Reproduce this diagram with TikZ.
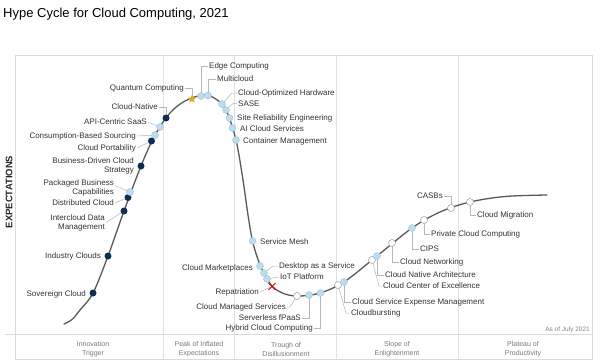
\documentclass[tikz,border=0pt]{standalone}
\usepackage{fontspec}
\setmainfont{Liberation Sans}
\usetikzlibrary{shapes.geometric,shapes.misc,backgrounds}
\definecolor{framec}{HTML}{DADADA}
\definecolor{sepc}{HTML}{E2E2E2}
\definecolor{curvec}{HTML}{5A5A5A}
\definecolor{leadc}{HTML}{B8B8B8}
\definecolor{darkc}{HTML}{0F2D52}
\definecolor{lightc}{HTML}{BFDCEC}
\definecolor{lightb}{HTML}{9CC5DC}
\definecolor{whiteb}{HTML}{9A9A9A}
\definecolor{textc}{HTML}{333333}
\definecolor{phasec}{HTML}{7A7A7A}
\definecolor{starc}{HTML}{DDAA22}
\begin{document}
\begin{tikzpicture}[x=1pt,y=-1pt,
  lab/.style={font=\fontsize{8}{9}\selectfont, text=textc, inner sep=0pt},
  labl/.style={lab, anchor=east, align=right},
  labr/.style={lab, anchor=west, align=left},
  phase/.style={font=\fontsize{7}{9}\selectfont, text=phasec, align=center, inner sep=0pt},
  leader/.style={draw=leadc, line width=0.5pt},
  darkdot/.style={circle, fill=darkc, minimum size=7pt, inner sep=0pt},
  lightdot/.style={circle, fill=lightc, draw=lightb, line width=0.4pt, minimum size=7pt, inner sep=0pt},
  whitedot/.style={circle, fill=white, draw=whiteb, line width=0.5pt, minimum size=7pt, inner sep=0pt},
  stardot/.style={star, star points=5, star point ratio=2.3, fill=starc, minimum size=9pt, inner sep=0pt},
  xmark/.style={cross out, draw=red!85!black, line width=0.9pt, minimum size=6pt, inner sep=0pt},
  sep/.style={draw=sepc, line width=0.6pt}]
\useasboundingbox (0,0) rectangle (600,360);

% title
\node[anchor=base west, inner sep=0pt, font=\fontsize{13}{15}\selectfont] (title) at (3,17.5) {Hype Cycle for Cloud Computing, 2021};

% axis label
\node[rotate=90, inner sep=0pt, font=\bfseries\fontsize{9.5}{11}\selectfont, text=black!85] (ylab) at (9,192) {EXPECTATIONS};

% phases
\node[phase] (p1) at (93,349.5) {Innovation\\Trigger};
\node[phase] (p2) at (199,349.5) {Peak of Inflated\\Expectations};
\node[phase] (p3) at (286,349.5) {Trough of\\Disillusionment};
\node[phase] (p4) at (397,349.5) {Slope of\\Enlightenment};
\node[phase] (p5) at (523,349.5) {Plateau of\\Productivity};
\node[anchor=east, inner sep=0pt, font=\fontsize{6.5}{8}\selectfont, text=phasec!90] (asof) at (590,329.5) {As of July 2021};

% dots
\node[darkdot] (d1) at (93,293) {};
\node[darkdot] (d2) at (108,256) {};
\node[darkdot] (d3) at (124,211) {};
\node[darkdot] (d4) at (128,197.5) {};
\node[lightdot] (d5) at (130,192) {};
\node[darkdot] (d6) at (141,166) {};
\node[darkdot] (d7) at (151.5,141) {};
\node[lightdot] (d8) at (155,135) {};
\node[lightdot] (d9) at (160,127) {};
\node[darkdot] (d10) at (166,118) {};
\node[stardot] (d11) at (192,99) {};
\node[lightdot] (d12) at (201,96) {};
\node[lightdot] (d13) at (208,95.5) {};
\node[lightdot] (d14) at (222,104) {};
\node[lightdot] (d15) at (226,110) {};
\node[lightdot] (d16) at (229.5,118) {};
\node[lightdot] (d17) at (232.5,128) {};
\node[lightdot] (d18) at (236,140) {};
\node[lightdot] (d19) at (252.5,241) {};
\node[lightdot] (d20) at (260,266) {};
\node[lightdot] (d21) at (264,273) {};
\node[lightdot] (d22) at (267,279) {};
\node[xmark] (d23) at (272,286.5) {};
\node[whitedot] (d24) at (297,296) {};
\node[lightdot] (d25) at (309,295) {};
\node[lightdot] (d26) at (320.5,293) {};
\node[whitedot] (d27) at (338,285) {};
\node[lightdot] (d28) at (344,282) {};
\node[whitedot] (d29) at (372,260) {};
\node[lightdot] (d30) at (377,256) {};
\node[whitedot] (d31) at (392,243) {};
\node[lightdot] (d32) at (412,228) {};
\node[whitedot] (d33) at (424,220) {};
\node[whitedot] (d34) at (451,208) {};
\node[whitedot] (d35) at (470,202) {};

% labels
\node[labl] (l1) at (86,294) {Sovereign Cloud};
\node[labl] (l2) at (101,256) {Industry Clouds};
\node[labl] (l3) at (105,222.5) {Intercloud Data\\Management};
\node[labl] (l4) at (114,203) {Distributed Cloud};
\node[labl] (l5) at (114,187.5) {Packaged Business\\Capabilities};
\node[labl] (l6) at (134,165.5) {Business-Driven Cloud\\Strategy};
\node[labl] (l7) at (136,148) {Cloud Portability};
\node[labl] (l8) at (136,136) {Consumption-Based Sourcing};
\node[labl] (l9) at (147,122) {API-Centric SaaS};
\node[labl] (l10) at (158,107) {Cloud-Native};
\node[labl] (l11) at (184,88) {Quantum Computing};
\node[labr] (l12) at (209,66) {Edge Computing};
\node[labr] (l13) at (217,79) {Multicloud};
\node[labr] (l14) at (238,93) {Cloud-Optimized Hardware};
\node[labr] (l15) at (238,103.5) {SASE};
\node[labr] (l16) at (237,118) {Site Reliability Engineering};
\node[labr] (l17) at (240,129) {AI Cloud Services};
\node[labr] (l18) at (243,141) {Container Management};
\node[labr] (l19) at (260,242) {Service Mesh};
\node[labl] (l20) at (253,268) {Cloud Marketplaces};
\node[labr] (l21) at (279,266) {Desktop as a Service};
\node[labr] (l22) at (280,277) {IoT Platform};
\node[labl] (l23) at (259,292) {Repatriation};
\node[labl] (l24) at (286,307) {Cloud Managed Services};
\node[labl] (l25) at (301,318) {Serverless fPaaS};
\node[labl] (l26) at (313,328) {Hybrid Cloud Computing};
\node[labr] (l27) at (351,313) {Cloudbursting};
\node[labr] (l28) at (352,302) {Cloud Service Expense Management};
\node[labr] (l29) at (383,286) {Cloud Center of Excellence};
\node[labr] (l30) at (385,275) {Cloud Native Architecture};
\node[labr] (l31) at (400,262) {Cloud Networking};
\node[labr] (l32) at (420,249) {CIPS};
\node[labr] (l33) at (431,234) {Private Cloud Computing};
\node[labl] (l34) at (443,196) {CASBs};
\node[labr] (l35) at (477,215) {Cloud Migration};

\begin{pgfonlayer}{background}
\fill[white] (0,0) rectangle (600,360);
% frame
\draw[draw=framec, line width=0.8pt] (15,55) rectangle (592,359);
\foreach \x in {163,234,336,458} \draw[sep] (\x,55) -- (\x,359);
\draw[draw=framec, line width=1pt] (5,334) -- (592,334);
% curve
\draw[curvec, line width=1.3pt, line cap=round] plot[smooth, tension=0.55] coordinates {
 (64,324) (72,319.5) (80,310) (93,293) (108,256) (124,211) (141,166) (155,135)
 (170,113) (185,101) (203,95) (215,98.5) (226,110) (236,140) (243,180) (248,215)
 (253,243) (261,267) (272,286) (285,294) (300,296) (320,293) (344,282) (377,256)
 (412,228) (440,212) (470,202) (505,196.5) (547,195)};
% leader lines
\draw[leader] ([xshift=1pt]l3.east) -- (d3.center);
\draw[leader] ([xshift=1pt]l4.east) -- (d4.center);
\draw[leader] ([xshift=1pt,yshift=2pt]l5.east) -- (d5.center);
\draw[leader] ([xshift=1pt]l7.east) -- (d7.center);
\draw[leader] ([xshift=1pt]l8.east) -- (d8.center);
\draw[leader] ([xshift=1pt]l9.east) -- (d9.center);
\draw[leader] ([xshift=1pt]l10.east) -| (d10.center);
\draw[leader] ([xshift=1pt]l11.east) -| (d11.center);
\draw[leader] ([xshift=-1pt]l12.west) -| (d12.center);
\draw[leader] ([xshift=-1pt]l13.west) -| (d13.center);
\draw[leader] ([xshift=-1pt]l14.west) -- ++(-5,0) -- (d14.center);
\draw[leader] ([xshift=-1pt]l15.west) -- ++(-4,0) -- (d15.center);
\draw[leader] ([xshift=-1pt]l21.west) -- ++(-5,0) -- (d21.center);
\draw[leader] ([xshift=-1pt]l22.west) -- (d22.center);
\draw[leader] ([xshift=1pt]l23.east) -- (d23.center);
\draw[leader] ([xshift=1pt]l24.east) -- ++(3,0) -- (d24.center);
\draw[leader] ([xshift=1pt]l25.east) -| (d25.center);
\draw[leader] ([xshift=1pt]l26.east) -| (d26.center);
\draw[leader] ([xshift=-1pt]l27.west) -- ++(-4,0) -- (d27.center);
\draw[leader] ([xshift=-1pt]l28.west) -| (d28.center);
\draw[leader] ([xshift=-1pt]l29.west) -- ++(-3,0) -- (d29.center);
\draw[leader] ([xshift=-1pt]l30.west) -| (d30.center);
\draw[leader] ([xshift=-1pt]l31.west) -| (d31.center);
\draw[leader] ([xshift=-1pt]l32.west) -| (d32.center);
\draw[leader] ([xshift=-1pt]l33.west) -| (d33.center);
\draw[leader] ([xshift=1pt]l34.east) -| (d34.center);
\draw[leader] ([xshift=-1pt]l35.west) -| (d35.center);
\end{pgfonlayer}
\end{tikzpicture}
\end{document}
